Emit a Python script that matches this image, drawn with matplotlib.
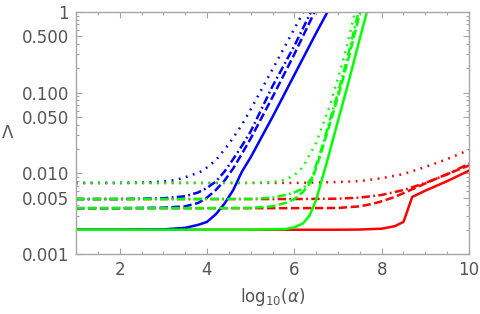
import matplotlib
matplotlib.use("Agg")
import matplotlib.pyplot as plt
from matplotlib.ticker import FixedLocator, NullFormatter, FixedFormatter

# ---- data ----
blue_solid_x = [1, 2, 3, 3.5, 3.8, 4.0, 4.2, 4.4, 4.6, 4.8, 5.0, 5.5, 6.0, 6.5, 6.8]
blue_solid_y = [0.002, 0.002, 0.00202, 0.00211, 0.0023, 0.0025, 0.0031, 0.0042, 0.0062, 0.0105, 0.0158, 0.050, 0.166, 0.55, 1.1]
blue_dash_x = [1, 2, 3, 3.5, 3.8, 4.0, 4.2, 4.4, 4.6, 4.8, 5.0, 5.5, 6.0, 6.5]
blue_dash_y = [0.0037, 0.0037, 0.00375, 0.0039, 0.0043, 0.0050, 0.0062, 0.0081, 0.0115, 0.0175, 0.027, 0.088, 0.30, 1.1]
blue_dashdot_x = [1, 2, 3, 3.5, 3.8, 4.0, 4.2, 4.4, 4.6, 4.8, 5.0, 5.5, 6.0, 6.4]
blue_dashdot_y = [0.0048, 0.0048, 0.0049, 0.0052, 0.0058, 0.0066, 0.0079, 0.0105, 0.015, 0.022, 0.033, 0.12, 0.38, 1.05]
blue_dot_x = [1, 2, 2.5, 3.0, 3.3, 3.6, 3.9, 4.2, 4.5, 4.8, 5.0, 5.3, 5.6, 6.0, 6.3]
blue_dot_y = [0.0076, 0.0076, 0.00767, 0.0079, 0.0083, 0.0093, 0.0107, 0.0145, 0.023, 0.040, 0.062, 0.123, 0.245, 0.62, 1.23]

green_solid_x = [1, 3, 5, 5.8, 6.0, 6.2, 6.35, 6.5, 6.75, 7.0, 7.25, 7.5, 7.7]
green_solid_y = [0.002, 0.002, 0.002, 0.00204, 0.00214, 0.0024, 0.0030, 0.0047, 0.0141, 0.0447, 0.141, 0.47, 1.2]
green_dash_x = [1, 4, 5, 5.5, 5.8, 6.0, 6.2, 6.4, 6.6, 6.8, 7.0, 7.2, 7.52]
green_dash_y = [0.0037, 0.0037, 0.00373, 0.0039, 0.0043, 0.0048, 0.0059, 0.0081, 0.0170, 0.039, 0.089, 0.22, 1.05]
green_dashdot_x = [1, 4, 5, 5.5, 5.8, 6.0, 6.2, 6.4, 6.6, 6.8, 7.0, 7.2, 7.48]
green_dashdot_y = [0.0048, 0.0048, 0.00481, 0.0050, 0.0054, 0.0058, 0.0065, 0.0087, 0.0185, 0.043, 0.10, 0.25, 1.05]
green_dot_x = [1, 4, 5, 5.5, 5.8, 6.0, 6.2, 6.5, 6.8, 7.0, 7.2, 7.4]
green_dot_y = [0.0076, 0.0076, 0.0076, 0.0078, 0.0083, 0.0095, 0.012, 0.024, 0.066, 0.15, 0.37, 1.07]

red_solid_x = [1, 7, 7.5, 8.0, 8.3, 8.5, 8.7, 9.0, 9.5, 10]
red_solid_y = [0.002, 0.002, 0.00201, 0.00206, 0.00221, 0.0025, 0.0051, 0.0061, 0.0080, 0.0108]
red_dash_x = [1, 6, 7, 7.5, 7.8, 8.0, 8.3, 8.6, 9.0, 9.5, 10]
red_dash_y = [0.0037, 0.0037, 0.00372, 0.0039, 0.0042, 0.0045, 0.0051, 0.0060, 0.0075, 0.0098, 0.0125]
red_dashdot_x = [1, 6, 7, 7.5, 8.0, 8.5, 9.0, 9.5, 10]
red_dashdot_y = [0.0048, 0.0048, 0.00485, 0.0050, 0.0054, 0.0062, 0.0076, 0.0097, 0.0132]
red_dot_x = [1, 6, 6.5, 7.0, 7.5, 8.0, 8.5, 9.0, 9.5, 10]
red_dot_y = [0.0076, 0.0076, 0.0077, 0.0078, 0.0080, 0.0087, 0.0098, 0.0120, 0.0150, 0.0195]

y_ticks = [0.001, 0.005, 0.010, 0.050, 0.100, 0.500, 1]
y_tick_labels = ["0.001", "0.005", "0.010", "0.050", "0.100", "0.500", "1"]
x_ticks = [2, 4, 6, 8, 10]
x_tick_labels = ["2", "4", "6", "8", "10"]

# ---- styling ----
plt.rcParams['lines.scale_dashes'] = False
plt.rcParams['font.family'] = ['DejaVu Sans']
GRAY = '#555555'
FRAME = '#a6a6a6'
LW = 1.8
styles = {
    'solid': dict(linestyle='-'),
    'dash': dict(dashes=(6, 2.6)),
    'dashdot': dict(dashes=(6, 2.4, 1.3, 2.4)),
    'dot': dict(dashes=(1.3, 4.0)),
}

fig = plt.figure(figsize=(4.8, 3.14), dpi=100)
ax = fig.add_axes([76/480, 60/314, (469-76)/480, (254-12)/314])

series = [
    ('red', red_dot_x, red_dot_y, 'dot'),
    ('red', red_dashdot_x, red_dashdot_y, 'dashdot'),
    ('red', red_dash_x, red_dash_y, 'dash'),
    ('red', red_solid_x, red_solid_y, 'solid'),
    ('blue', blue_dot_x, blue_dot_y, 'dot'),
    ('blue', blue_dashdot_x, blue_dashdot_y, 'dashdot'),
    ('blue', blue_dash_x, blue_dash_y, 'dash'),
    ('blue', blue_solid_x, blue_solid_y, 'solid'),
    ('#00ff00', green_dot_x, green_dot_y, 'dot'),
    ('#00ff00', green_dashdot_x, green_dashdot_y, 'dashdot'),
    ('#00ff00', green_dash_x, green_dash_y, 'dash'),
    ('#00ff00', green_solid_x, green_solid_y, 'solid'),
]
for col, xs, ys, st in series:
    ax.plot(xs, ys, color=col, lw=LW, **styles[st])

ax.set_yscale('log')
ax.set_xlim(1, 10)
ax.set_ylim(0.001, 1)

for s in ax.spines.values():
    s.set_color(FRAME)
    s.set_linewidth(1.0)

ax.yaxis.set_major_locator(FixedLocator(y_ticks))
ax.yaxis.set_major_formatter(FixedFormatter(y_tick_labels))
minor_y = [m * 10.0**e for e in (-3, -2, -1) for m in range(2, 10) if m != 5]
ax.yaxis.set_minor_locator(FixedLocator(minor_y))
ax.yaxis.set_minor_formatter(NullFormatter())

ax.xaxis.set_major_locator(FixedLocator(x_ticks))
ax.xaxis.set_major_formatter(FixedFormatter(x_tick_labels))
ax.xaxis.set_minor_locator(FixedLocator([1.5, 2.5, 3, 3.5, 4.5, 5, 5.5, 6.5, 7, 7.5, 8.5, 9, 9.5]))

ax.tick_params(which='both', direction='in', top=True, right=True, color=FRAME,
               labelcolor=GRAY, labelsize=12, width=0.8)
ax.tick_params(which='major', length=4.5, pad=5)
ax.tick_params(which='minor', length=2.5)

plt.rcParams['mathtext.fontset'] = 'dejavusans'
fig.text(272.5/480, 1 - 297/314, r'$\mathrm{log}_{10}(\alpha)$', ha='center', va='center',
         fontsize=12, color=GRAY)
fig.text(8/480, 1 - 133/314, 'Λ', ha='center', va='center', fontsize=12, color=GRAY)

fig.savefig('out.png', dpi=100)
